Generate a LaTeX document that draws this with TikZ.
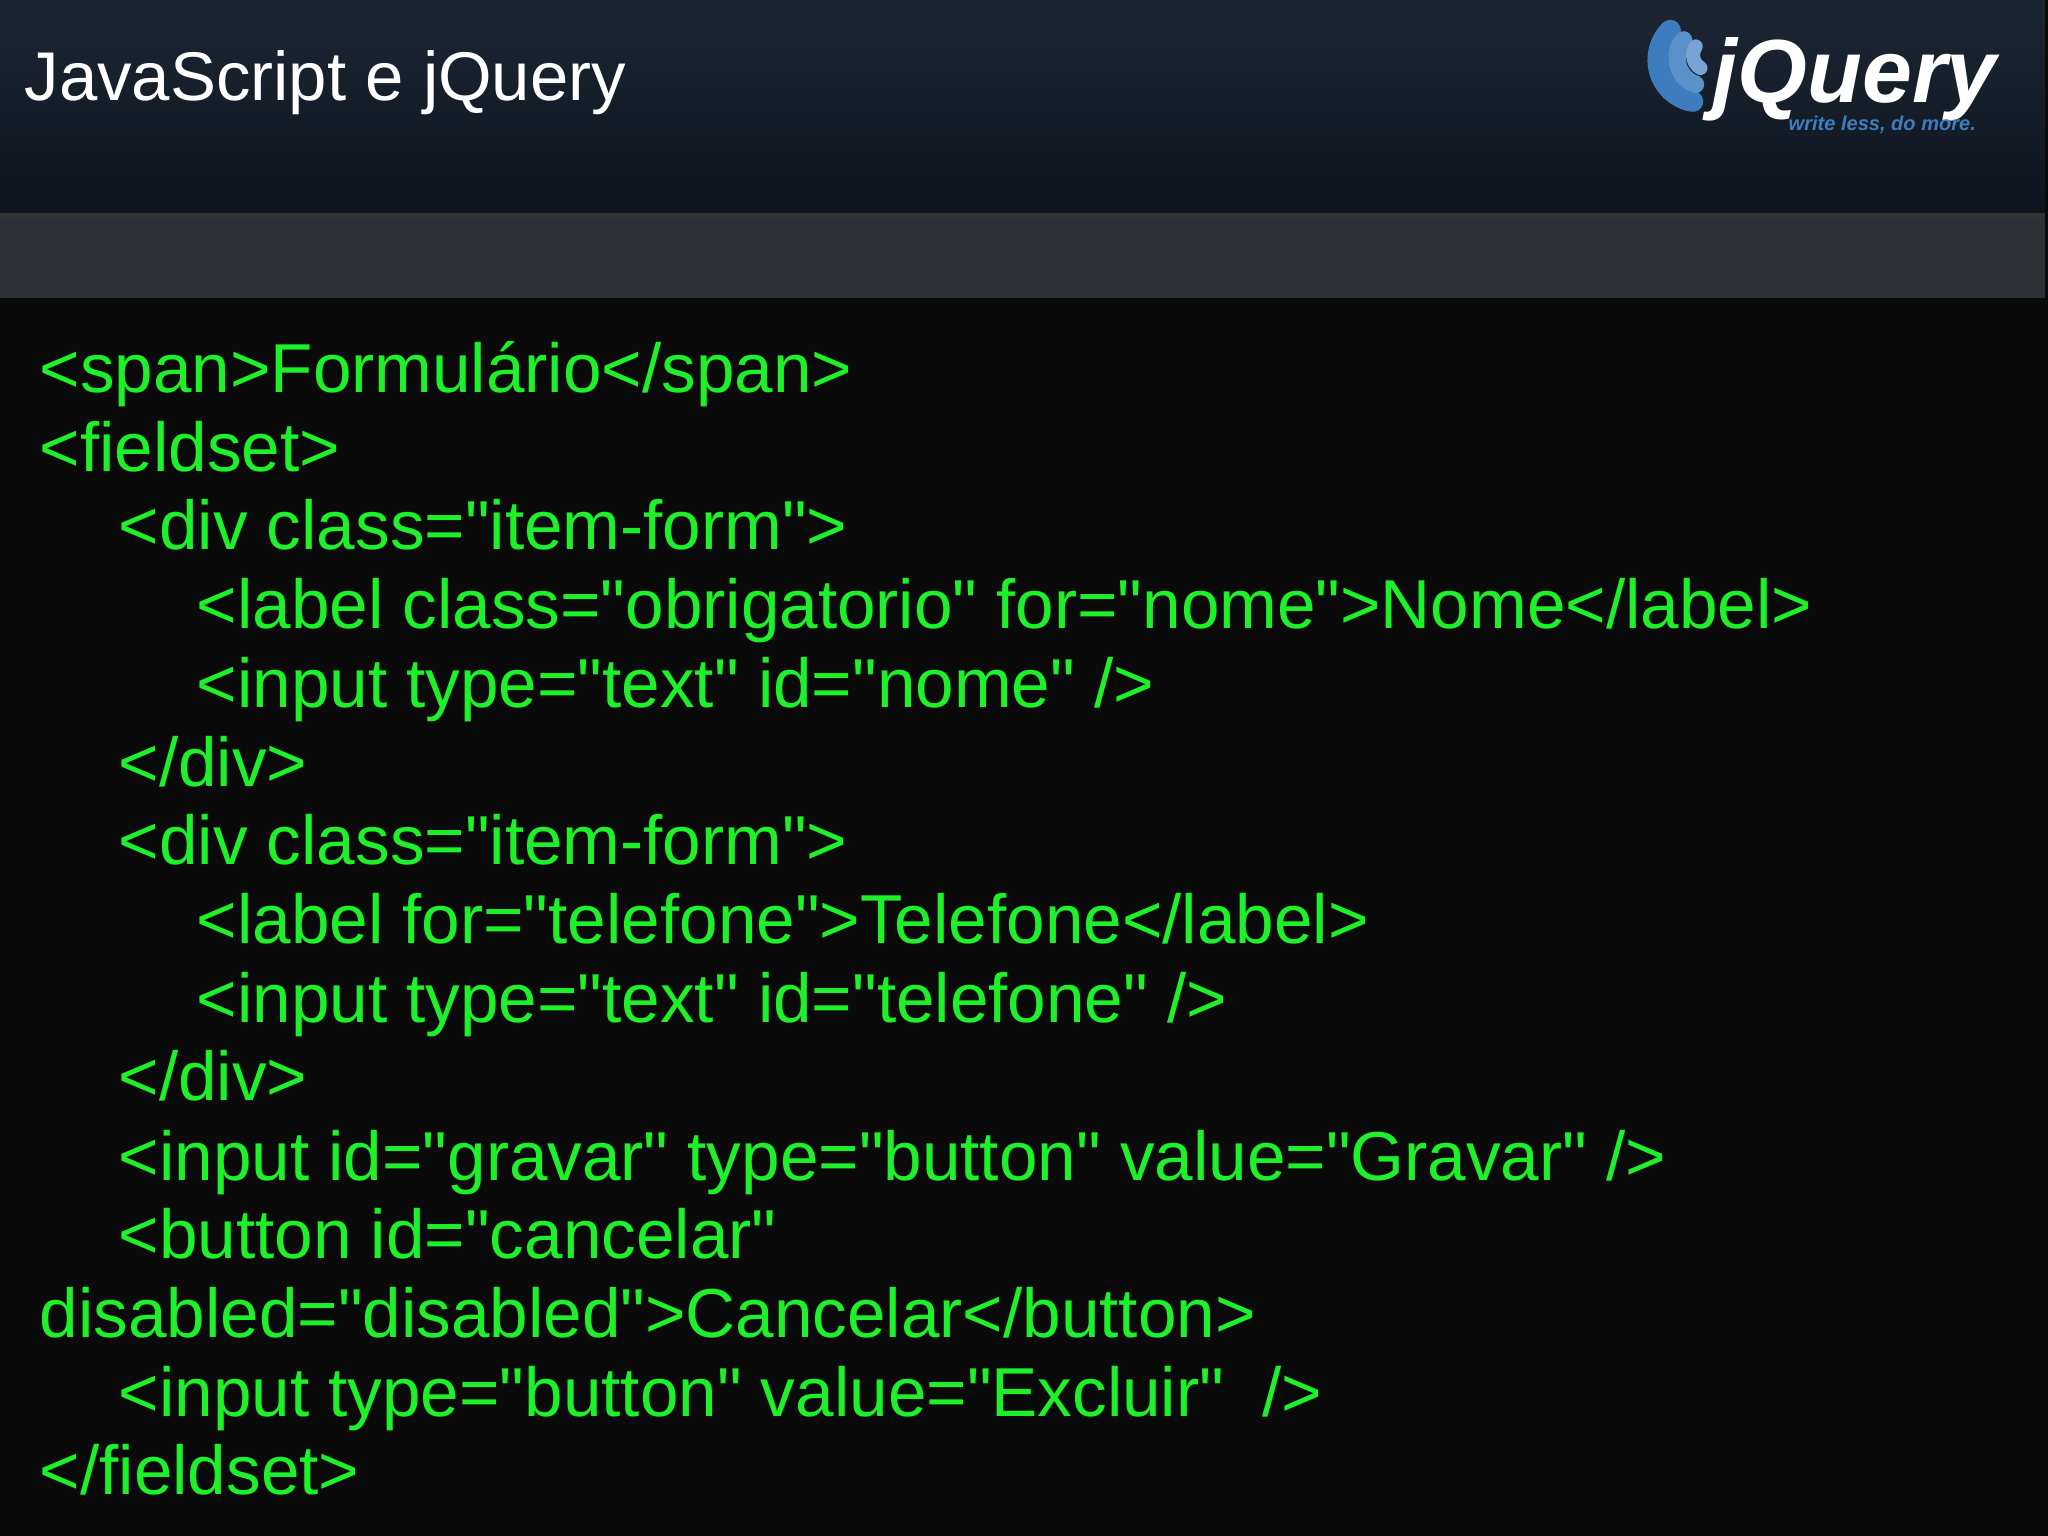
\documentclass[tikz,border=0pt]{standalone}
\usepackage{fontspec}
\setmainfont{Liberation Sans}[Ligatures=TeXOff]
\definecolor{codegreen}{HTML}{1EF02A}
\definecolor{navytop}{HTML}{1C2633}
\definecolor{navybot}{HTML}{0E141D}
\definecolor{band}{HTML}{2C3035}
\definecolor{bodybg}{HTML}{0A0A0A}
\definecolor{jqblue}{HTML}{3D7DBF}
\begin{document}
\begin{tikzpicture}[x=0.01cm,y=-0.01cm,
  code/.style={anchor=base west,inner sep=0,text=codegreen,font=\fontsize{19.7pt}{22pt}\selectfont}]
\useasboundingbox (0,0) rectangle (2048,1536);
\fill[bodybg] (0,0) rectangle (2048,1536);
\shade[top color=navytop,bottom color=navybot] (0,0) rectangle (2045,215);
\fill[band] (0,215) rectangle (2045,298);
\draw[black!80,line width=1pt] (0,215) -- (2045,215);
\node[anchor=base west,inner sep=0,text=white,font=\fontsize{19.6pt}{25pt}\selectfont] (title) at (24,100) {JavaScript e jQuery};
% logo
\draw[jqblue,line width=6pt,line cap=round] (1700,60) ++(100:42) arc (100:225:42);
\draw[jqblue!85,line width=5pt,line cap=round] (1705,58) ++(110:28) arc (110:220:28);
\draw[jqblue!70,line width=4pt,line cap=round] (1708,55) ++(120:15) arc (120:215:15);
\node[anchor=base west,inner sep=0,text=white,font=\fontsize{25.5pt}{28pt}\selectfont\bfseries\itshape] (logo) at (1712,102) {jQuery};
\node[anchor=base west,inner sep=0,text=jqblue,font=\fontsize{5.7pt}{7pt}\selectfont\bfseries\itshape] (tag) at (1788,130) {write less, do more.};
% code
\node[code] (l1) at (39,392) {<span>Formulário</span>};
\node[code] (l2) at (39,471) {<fieldset>};
\node[code] (l3) at (118,549) {<div class="item-form">};
\node[code] (l4) at (196,628) {<label class="obrigatorio" for="nome">Nome</label>};
\node[code] (l5) at (196,707) {<input type="text" id="nome" />};
\node[code] (l6) at (118,786) {</div>};
\node[code] (l7) at (118,864) {<div class="item-form">};
\node[code] (l8) at (196,943) {<label for="telefone">Telefone</label>};
\node[code] (l9) at (196,1022) {<input type="text" id="telefone" />};
\node[code] (l10) at (118,1100) {</div>};
\node[code] (l11) at (118,1180) {<input id="gravar" type="button" value="Gravar" />};
\node[code] (l12) at (118,1258) {<button id="cancelar"};
\node[code] (l13) at (39,1337) {disabled="disabled">Cancelar</button>};
\node[code] (l14) at (118,1416) {<input type="button" value="Excluir"\ \ />};
\node[code] (l15) at (39,1494) {</fieldset>};
\end{tikzpicture}
\end{document}
